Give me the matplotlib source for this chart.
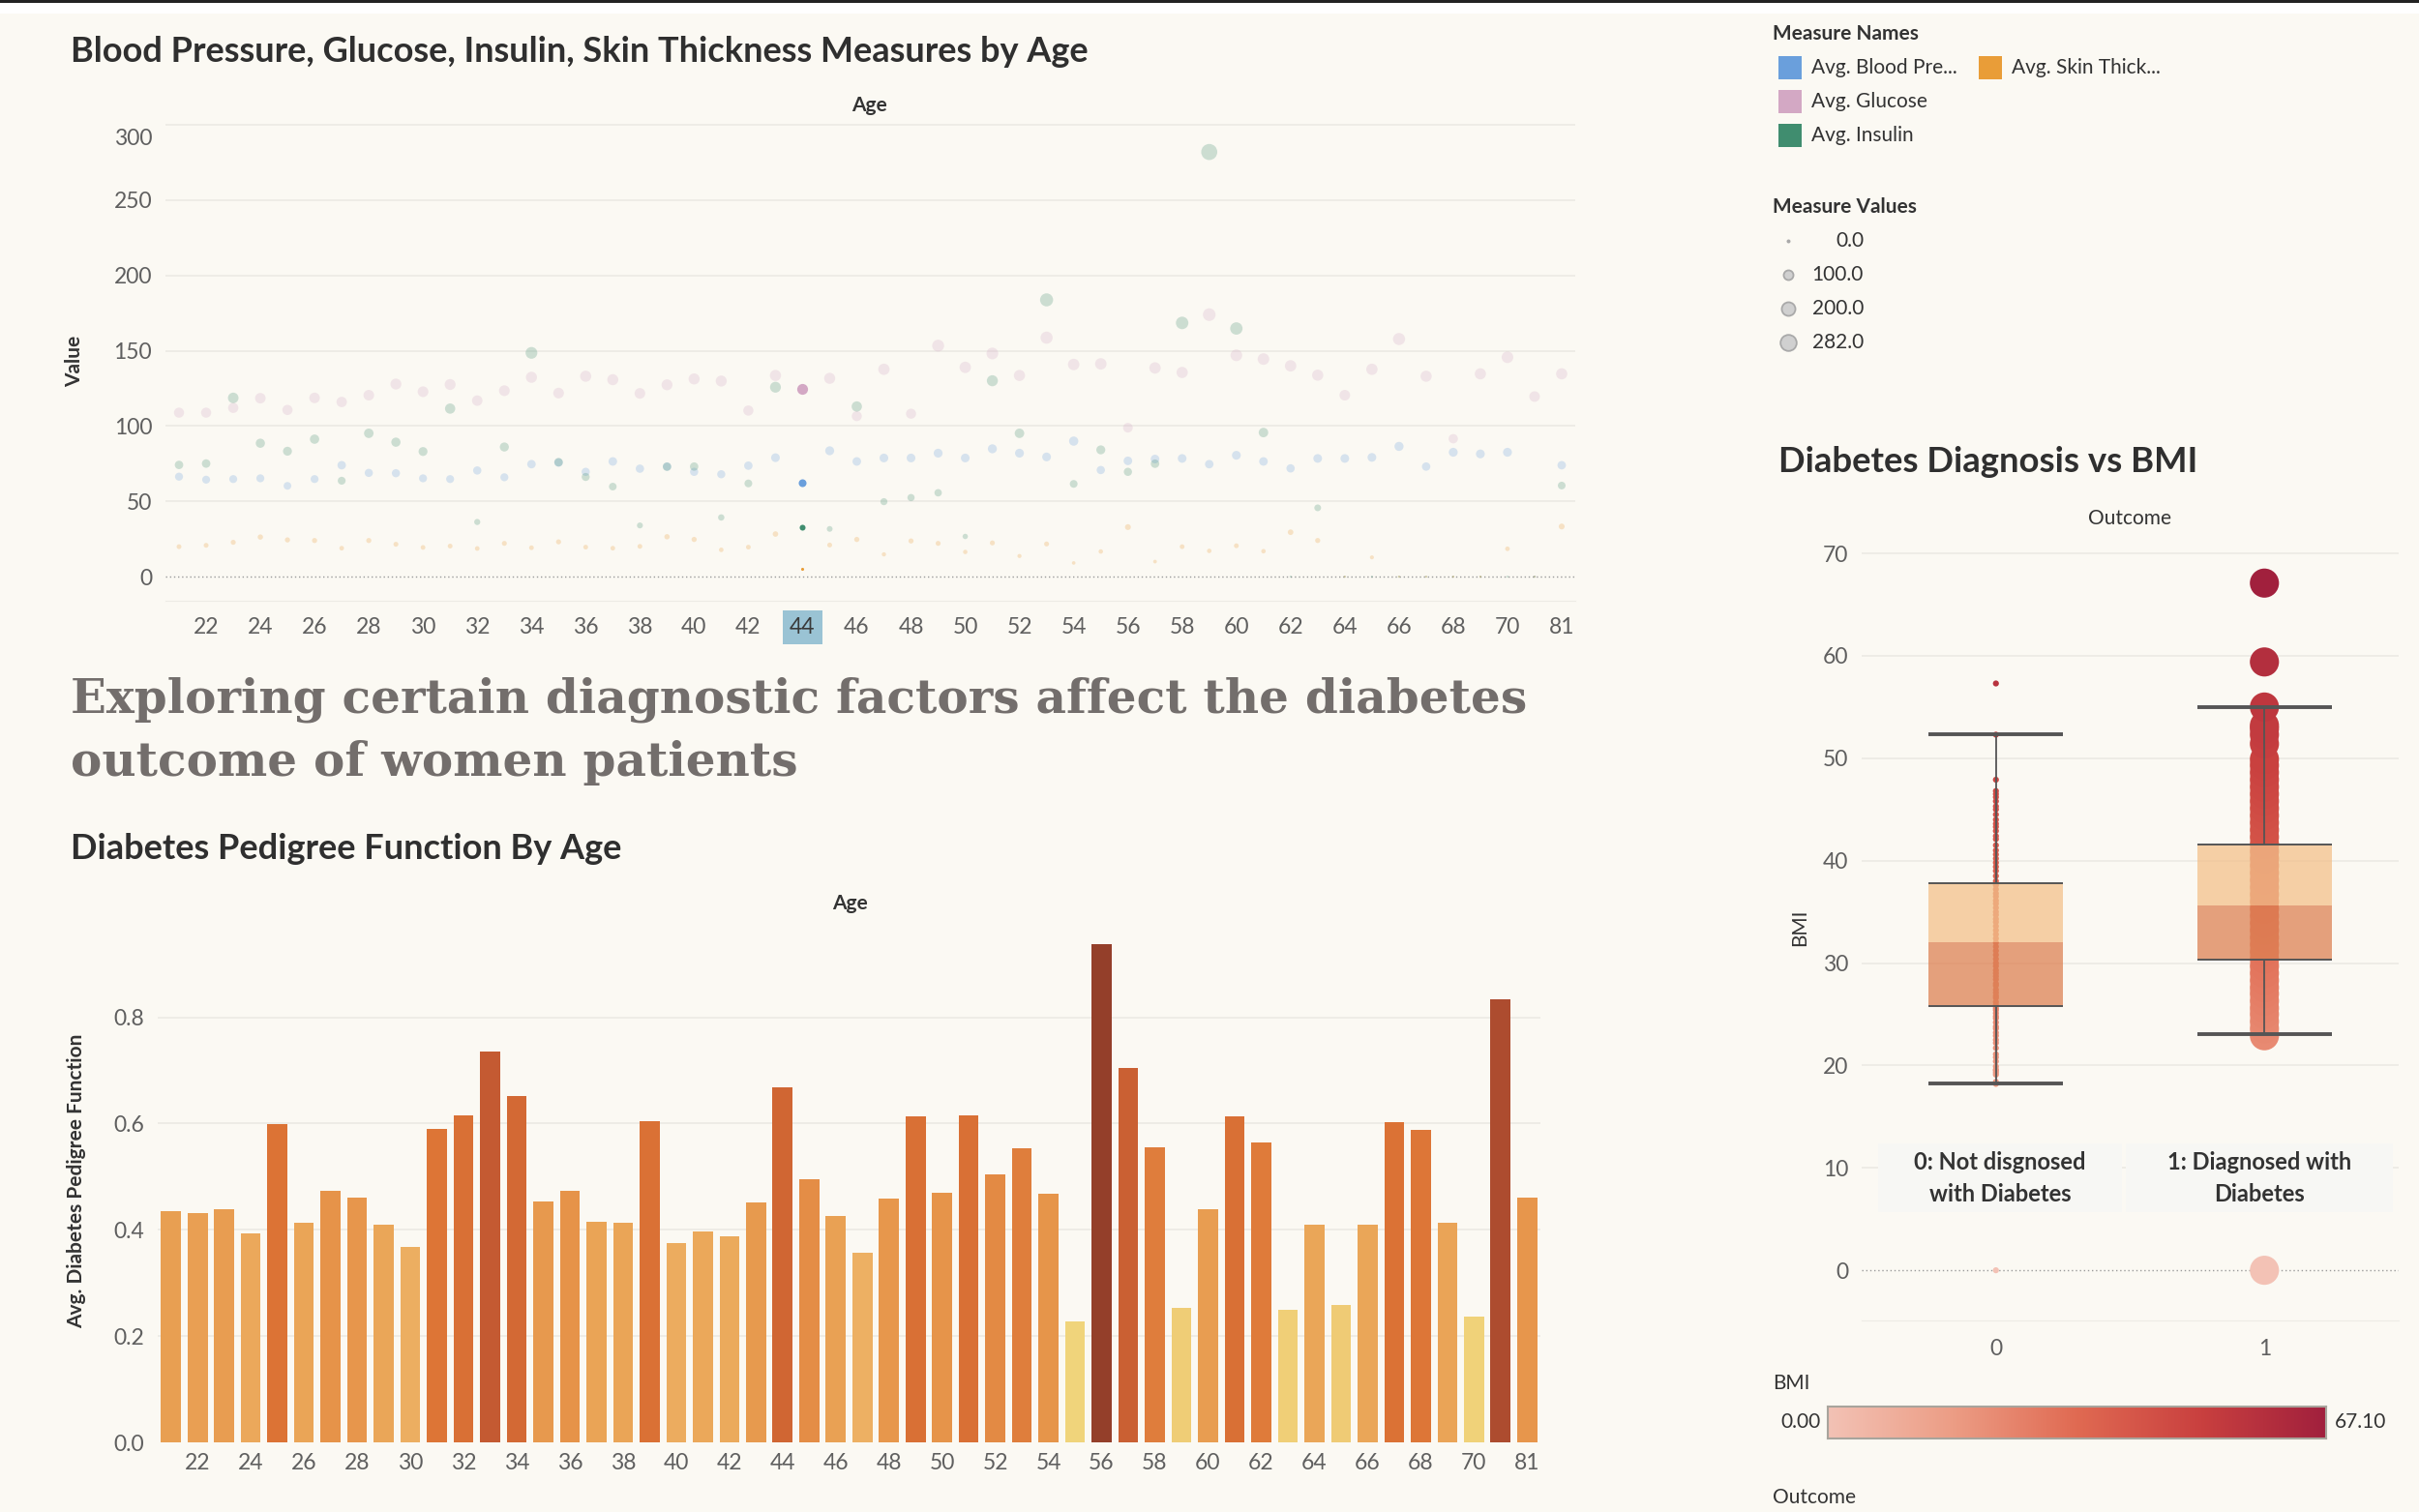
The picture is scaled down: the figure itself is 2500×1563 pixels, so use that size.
import matplotlib
matplotlib.use("Agg")
import matplotlib.pyplot as plt
import matplotlib.transforms as mtrans
import numpy as np
from matplotlib.colors import LinearSegmentedColormap, Normalize
from matplotlib.patches import Rectangle

# ---------------- data ----------------
ages = [21, 22, 23, 24, 25, 26, 27, 28, 29, 30, 31, 32, 33, 34, 35, 36, 37, 38, 39, 40,
        41, 42, 43, 44, 45, 46, 47, 48, 49, 50, 51, 52, 53, 54, 55, 56, 57, 58, 59, 60,
        61, 62, 63, 64, 65, 66, 67, 68, 69, 70, 72, 81]

avg_glucose = [108.9, 108.9, 112.1, 118.5, 110.7, 118.7, 116.0, 120.5, 127.9, 122.8,
               127.6, 116.9, 123.5, 132.4, 121.9, 133.1, 130.8, 121.7, 127.4, 131.3,
               129.9, 110.3, 133.6, 124.9, 131.7, 106.6, 137.7, 108.2, 153.4, 139.0,
               148.2, 133.6, 158.7, 140.9, 141.3, 98.9, 138.6, 135.6, 174.0, 147.0,
               144.5, 140.0, 133.8, 120.5, 137.7, 157.8, 133.1, 91.6, 134.7, 145.7,
               119.6, 134.7]
avg_blood_pressure = [66.4, 64.4, 64.8, 65.3, 60.3, 64.8, 74.0, 68.9, 68.7, 65.3,
                      64.8, 70.5, 66.0, 74.7, 75.8, 69.6, 76.5, 71.7, 73.1, 69.6,
                      68.0, 73.7, 79.0, 62.1, 83.6, 76.5, 78.8, 78.8, 82.0, 78.8,
                      84.9, 82.0, 79.5, 90.0, 70.8, 76.9, 78.1, 78.5, 74.7, 80.6,
                      76.5, 71.9, 78.5, 78.5, 79.2, 86.5, 73.1, 82.6, 81.5, 82.6,
                      0.0, 74.0]
avg_insulin = [74.2, 75.1, 118.7, 88.6, 83.3, 91.3, 63.7, 95.2, 89.3, 83.1,
               111.6, 36.3, 86.1, 148.6, 76.0, 66.2, 59.8, 34.0, 73.0, 73.1,
               39.3, 61.9, 125.8, 32.9, 31.7, 113.0, 49.8, 52.5, 55.7, 26.7,
               130.1, 95.2, 183.8, 61.6, 84.2, 69.6, 75.0, 168.5, 282.0, 164.8,
               95.7, 0.0, 45.7, 0.0, 0.0, 0.0, 0.0, 0.0, 0.0, 0.0,
               0.0, 60.5]
avg_skin_thickness = [19.9, 20.8, 22.8, 26.3, 24.4, 24.0, 18.9, 24.0, 21.5, 19.4,
                      20.3, 18.7, 22.1, 19.2, 23.1, 19.6, 18.9, 20.1, 26.5, 24.7,
                      17.8, 19.6, 28.3, 5.0, 21.0, 24.7, 14.8, 23.7, 22.1, 16.4,
                      22.4, 13.7, 21.7, 9.1, 16.7, 32.9, 10.0, 19.9, 17.1, 20.5,
                      16.9, 29.5, 24.0, 0.0, 12.8, 0.0, 0.0, 0.0, 0.0, 18.5,
                      0.0, 33.3]
avg_dpf = [0.435, 0.432, 0.439, 0.394, 0.599, 0.413, 0.473, 0.461, 0.410, 0.368,
           0.590, 0.615, 0.736, 0.651, 0.454, 0.473, 0.416, 0.413, 0.605, 0.375,
           0.397, 0.387, 0.451, 0.669, 0.495, 0.426, 0.356, 0.458, 0.613, 0.470,
           0.615, 0.505, 0.553, 0.468, 0.227, 0.938, 0.704, 0.556, 0.253, 0.439,
           0.613, 0.565, 0.249, 0.410, 0.259, 0.410, 0.603, 0.588, 0.414, 0.237,
           0.834, 0.461]
highlight_age = 44

measure_names = ["Avg. Blood Pre...", "Avg. Glucose", "Avg. Insulin", "Avg. Skin Thick..."]
size_legend_values = [0.0, 100.0, 200.0, 282.0]

outcomes = [0, 1]
outcome_labels = ["0: Not disgnosed\nwith Diabetes", "1: Diagnosed with\nDiabetes"]
bmi_whisker_low = [18.2, 23.1]
bmi_q1 = [25.8, 30.3]
bmi_median = [32.0, 35.6]
bmi_q3 = [37.8, 41.55]
bmi_whisker_high = [52.3, 55.0]
bmi_outcome0 = [0.0, 18.2, 18.4, 19.1, 19.3, 19.5, 19.6, 19.9, 20.4, 20.8, 21.1, 21.7,
                22.2, 22.5, 22.9, 23.2, 23.6, 23.8, 24.2, 24.6, 24.8, 25.1, 25.4, 25.6,
                25.9, 26.2, 26.6, 26.8, 27.1, 27.4, 27.8, 28.0, 28.4, 28.7, 29.0, 29.3,
                29.7, 30.0, 30.4, 30.8, 31.2, 31.6, 32.0, 32.4, 32.8, 33.2, 33.6, 34.0,
                34.3, 34.7, 35.0, 35.4, 35.8, 36.1, 36.5, 36.8, 37.2, 37.6, 38.0, 38.5,
                39.0, 39.4, 39.8, 40.2, 40.6, 41.0, 41.5, 42.1, 42.4, 42.9, 43.3, 43.6,
                44.0, 44.5, 45.0, 45.3, 45.8, 46.2, 46.5, 46.8, 47.9, 52.3, 57.3]
bmi_outcome1 = [0.0, 22.9, 23.6, 24.3, 25.0, 25.6, 26.3, 27.0, 27.6, 28.3, 29.0, 29.7,
                30.4, 31.1, 31.8, 32.5, 33.2, 33.9, 34.6, 35.3, 36.0, 36.7, 37.4, 38.1,
                38.8, 39.5, 40.2, 40.9, 41.6, 42.3, 43.0, 43.7, 44.4, 45.1, 45.8, 46.5,
                47.2, 47.9, 48.6, 49.3, 49.9, 51.4, 52.3, 52.9, 53.2, 55.0, 59.4, 67.1]
bmi_min, bmi_max = 0.0, 67.10

# ---------------- styling ----------------
W, H = 2500, 1563
BG = "#fbf9f3"
FONT = "Lato"
plt.rcParams["font.family"] = [FONT, "DejaVu Sans"]

fig = plt.figure(figsize=(W / 100, H / 100), dpi=100)
fig.patch.set_facecolor(BG)


def ax_px(x0, y0, x1, y1):
    a = fig.add_axes([x0 / W, 1 - y1 / H, (x1 - x0) / W, (y1 - y0) / H])
    a.set_facecolor("none")
    return a


def txt(x, y, s, **kw):
    return fig.text(x / W, 1 - y / H, s, **kw)


# top strip
fig.add_artist(Rectangle((0, 1 - 14 / H), 1, 14 / H, transform=fig.transFigure,
                         facecolor="white", edgecolor="none"))
fig.add_artist(Rectangle((0, 1 - 3 / H), 1, 3 / H, transform=fig.transFigure,
                         facecolor="#222222", edgecolor="none"))

TITLE_C = "#2f2f2f"
TICK_C = "#5f5f5f"
GRID_C = "#edebe5"
TICK_FS = 16.5
LEG_FS = 15

series_colors = {"bp": "#6a9fdc", "glu": "#d3a8c4", "ins": "#408d6f", "skin": "#e99d38"}


def msize(v):
    return 2.5 + 0.5 * np.asarray(v, dtype=float)


# ---------------- top scatter ----------------
ax1 = ax_px(171, 126, 1628, 621)
x = np.arange(len(ages))
hl = np.array(ages) == highlight_age
for vals, key in [(avg_glucose, "glu"), (avg_blood_pressure, "bp"),
                  (avg_insulin, "ins"), (avg_skin_thickness, "skin")]:
    v = np.asarray(vals)
    ax1.scatter(x[~hl], v[~hl], s=msize(v[~hl]), color=series_colors[key],
                alpha=0.25, linewidths=0, zorder=3)
    ax1.scatter(x[hl], v[hl], s=msize(v[hl]), color=series_colors[key],
                alpha=1.0, linewidths=0, zorder=4)
ax1.set_xlim(-0.5, len(ages) - 0.5)
ax1.set_ylim(-16, 302)
ax1.set_yticks([0, 50, 100, 150, 200, 250, 300])
for yv in [50, 100, 150, 200, 250, 300]:
    ax1.axhline(yv, color=GRID_C, lw=1.3, zorder=1)
ax1.axhline(0, color="#9a9a9a", lw=1.0, ls=(0, (1, 2)), zorder=2)
tick_idx = list(range(1, len(ages), 2))
ax1.set_xticks(tick_idx)
ax1.set_xticklabels([str(ages[i]) for i in tick_idx])
for s in ax1.spines.values():
    s.set_visible(False)
ax1.spines["bottom"].set_visible(True)
ax1.spines["bottom"].set_color(GRID_C)
ax1.tick_params(axis="both", length=0, labelsize=TICK_FS, labelcolor=TICK_C, pad=10)
ax1.tick_params(axis="x", pad=12)
for lab in ax1.get_xticklabels():
    if lab.get_text() == str(highlight_age):
        lab.set_bbox(dict(facecolor="#9ac3d4", edgecolor="none", pad=5))
        lab.set_color("#3a3a3a")
# top label sits just inside the pane
top_lab = ax1.get_yticklabels()[-1]
top_lab.set_transform(top_lab.get_transform() +
                      mtrans.ScaledTranslation(0, -9 / 72, fig.dpi_scale_trans))
ax1.set_ylabel("Value", fontsize=15, color="#333333", fontweight="bold", labelpad=22)
txt(73, 53, "Blood Pressure, Glucose, Insulin, Skin Thickness Measures by Age",
    fontsize=26, fontweight="bold", color=TITLE_C, va="center", ha="left")
txt(898, 109, "Age", fontsize=15, color="#333333", fontweight="bold", ha="center", va="center")

# ---------------- big heading ----------------
h1 = txt(73, 723, "Exploring certain diagnostic factors affect the diabetes",
         fontsize=44, family=["DejaVu Serif"], fontweight="bold", color="#736e6c",
         ha="left", va="center")
h2 = txt(73, 789, "outcome of women patients",
         fontsize=44, family=["DejaVu Serif"], fontweight="bold", color="#736e6c",
         ha="left", va="center")
fig.canvas.draw()
r = fig.canvas.get_renderer()
scale = 1507 / h1.get_window_extent(r).width
h1.set_fontsize(44 * scale)
h2.set_fontsize(44 * scale)

# ---------------- bar chart ----------------
ax2 = ax_px(163, 950, 1592, 1491)
bar_cmap = LinearSegmentedColormap.from_list(
    "orgold",
    [(0.0, "#f0d47b"), (0.18, "#edb063"), (0.26, "#eaa557"), (0.34, "#e6944a"),
     (0.52, "#dc7335"), (0.72, "#c45a32"), (0.85, "#ae4c2f"), (1.0, "#943f2a")])
dnorm = Normalize(min(avg_dpf), max(avg_dpf))
ax2.bar(x, avg_dpf, width=0.75, color=[bar_cmap(dnorm(v)) for v in avg_dpf],
        edgecolor="none", zorder=3)
ax2.set_xlim(-0.5, len(ages) - 0.5)
ax2.set_ylim(0, 0.985)
ax2.set_yticks([0.0, 0.2, 0.4, 0.6, 0.8])
ax2.set_yticklabels(["0.0", "0.2", "0.4", "0.6", "0.8"])
for yv in [0.2, 0.4, 0.6, 0.8]:
    ax2.axhline(yv, color=GRID_C, lw=1.3, zorder=1)
ax2.set_xticks(tick_idx)
ax2.set_xticklabels([str(ages[i]) for i in tick_idx])
for s in ax2.spines.values():
    s.set_visible(False)
ax2.tick_params(axis="both", length=0, labelsize=TICK_FS, labelcolor=TICK_C, pad=10)
ax2.tick_params(axis="x", pad=8)
ax2.set_ylabel("Avg. Diabetes Pedigree Function", fontsize=15, color="#333333",
               fontweight="bold", labelpad=20)
txt(73, 877, "Diabetes Pedigree Function By Age", fontsize=26, fontweight="bold",
    color=TITLE_C, va="center", ha="left")
txt(878, 934, "Age", fontsize=15, color="#333333", fontweight="bold", ha="center", va="center")

# ---------------- right: legends ----------------
txt(1832, 35, "Measure Names", fontsize=LEG_FS, color="#333333", fontweight="bold", va="center")
legend_pos = [(1838, 70), (1838, 105), (1838, 140), (2045, 70)]
legend_cols = [series_colors["bp"], series_colors["glu"], series_colors["ins"], series_colors["skin"]]
for (lx, ly), name, col in zip(legend_pos, measure_names, legend_cols):
    fig.add_artist(Rectangle((lx / W, 1 - (ly + 12) / H), 24 / W, 24 / H,
                             transform=fig.transFigure, facecolor=col, edgecolor="none"))
    txt(lx + 34, ly, name, fontsize=LEG_FS, color="#333333", va="center")

txt(1832, 214, "Measure Values", fontsize=LEG_FS, color="#333333", fontweight="bold", va="center")
axl = ax_px(1830, 232, 1940, 372)
axl.set_xlim(0, 110)
axl.set_ylim(372, 232)
axl.axis("off")
for i, v in enumerate(size_legend_values):
    yy = 249 + i * 35
    axl.scatter([18], [yy], s=msize(v), color="#d0d0d0", edgecolors="#a9a9a9",
                linewidths=1.3)
    txt(1926, yy, f"{v:.1f}", fontsize=LEG_FS, color="#333333", ha="right", va="center")

# ---------------- right: box plot ----------------
txt(1838, 478, "Diabetes Diagnosis vs BMI", fontsize=26.3, fontweight="bold",
    color=TITLE_C, va="center")
txt(2201, 536, "Outcome", fontsize=LEG_FS, color="#333333", ha="center", va="center")

ax3 = ax_px(1924, 553, 2479, 1365)
bmi_cmap = LinearSegmentedColormap.from_list(
    "bmi", ["#f3c2b5", "#ec9d85", "#e06a52", "#c9403f", "#a1203d"])
bnorm = Normalize(bmi_min, bmi_max)
for o, vals, sz in [(0, bmi_outcome0, 20), (1, bmi_outcome1, 470)]:
    v = np.asarray(vals)
    ax3.scatter(np.full(len(v), o), v, s=sz, c=bmi_cmap(bnorm(v)), linewidths=0, zorder=3)
hw = 0.25
ax3.bar(outcomes, np.array(bmi_median) - np.array(bmi_q1), bottom=bmi_q1, width=2 * hw,
        color="#dd8254", alpha=0.75, edgecolor="none", zorder=4)
ax3.bar(outcomes, np.array(bmi_q3) - np.array(bmi_median), bottom=bmi_median, width=2 * hw,
        color="#f3c18b", alpha=0.75, edgecolor="none", zorder=4)
for o in outcomes:
    ax3.vlines(o, bmi_q3[o], bmi_whisker_high[o], color="#555555", lw=1.3, zorder=5)
    ax3.vlines(o, bmi_whisker_low[o], bmi_q1[o], color="#555555", lw=1.3, zorder=5)
    ax3.hlines([bmi_whisker_low[o], bmi_whisker_high[o]], o - hw, o + hw,
               color="#555555", lw=2.8, zorder=5)
    ax3.hlines([bmi_q1[o], bmi_q3[o]], o - hw, o + hw, color="#555555", lw=1.4, zorder=5)
ax3.set_xlim(-0.5, 1.5)
ax3.set_ylim(-4.9, 71.8)
ax3.set_yticks([0, 10, 20, 30, 40, 50, 60, 70])
for yv in [10, 20, 30, 40, 50, 60, 70]:
    ax3.axhline(yv, color=GRID_C, lw=1.3, zorder=1)
ax3.axhline(0, color="#9a9a9a", lw=1.0, ls=(0, (1, 2)), zorder=2)
ax3.set_xticks(outcomes)
ax3.set_xticklabels([str(o) for o in outcomes])
for s in ax3.spines.values():
    s.set_visible(False)
ax3.spines["bottom"].set_visible(True)
ax3.spines["bottom"].set_color(GRID_C)
ax3.tick_params(axis="both", length=0, labelsize=TICK_FS, labelcolor=TICK_C, pad=10)
ax3.tick_params(axis="x", pad=14)
ax3.set_ylabel("BMI", fontsize=LEG_FS, color="#333333", labelpad=10)
# outcome header boxes
for (x0, x1), lab in zip([(-0.44, 0.47), (0.485, 1.48)], outcome_labels):
    ax3.add_patch(Rectangle((x0, 5.7), x1 - x0, 6.7, facecolor="#f7f7f4",
                            edgecolor="none", zorder=6))
    ax3.text((x0 + x1) / 2, 9.0, lab, ha="center", va="center", fontsize=17,
             fontweight="bold", color="#333333", linespacing=1.55, zorder=7)

# BMI colour legend
txt(1832, 1430, "BMI", fontsize=LEG_FS, color="#333333", va="center")
axc = ax_px(1889, 1454, 2404, 1487)
grad = np.linspace(bmi_min, bmi_max, 256)[None, :]
axc.imshow(grad, aspect="auto", cmap=bmi_cmap, norm=bnorm,
           extent=[bmi_min, bmi_max, 0, 1])
axc.set_xticks([])
axc.set_yticks([])
for s in axc.spines.values():
    s.set_color("#a8a49c")
    s.set_linewidth(1.5)
txt(1882, 1470, f"{bmi_min:.2f}", fontsize=LEG_FS, color="#333333", ha="right", va="center")
txt(2413, 1470, f"{bmi_max:.2f}", fontsize=LEG_FS, color="#333333", ha="left", va="center")
txt(1832, 1548, "Outcome", fontsize=LEG_FS, color="#333333", va="center")

fig.savefig("out.png", dpi=100, facecolor=BG)
